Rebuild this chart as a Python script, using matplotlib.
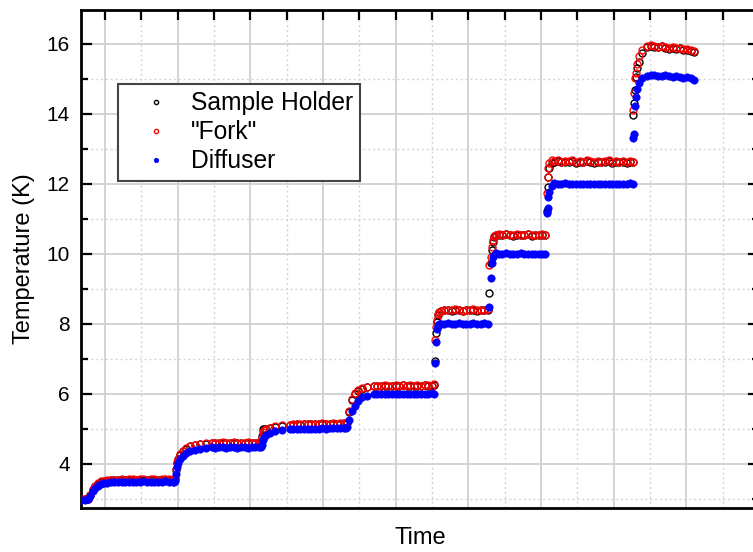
import matplotlib
matplotlib.use("Agg")
import matplotlib.pyplot as plt
from matplotlib.ticker import MultipleLocator

plt.rcParams['font.family'] = ['Liberation Sans', 'DejaVu Sans']

# time axis (arbitrary minutes, no labels shown on the plot)
time_min = [
    6.75, 7.2, 7.7, 8.0, 8.3, 8.6, 9.0, 9.4, 9.8, 10.3, 10.8, 11.3, 11.8, 12.3, 12.8, 13.3, 13.8, 14.3, 14.8,
    15.3, 15.8, 16.3, 16.8, 17.3, 17.8, 18.3, 18.8, 19.3, 19.5,
    19.62, 19.76, 19.9, 20.03, 20.31, 20.72, 21.13, 21.68, 22.37, 23.06, 23.88, 24.71, 25.2, 25.7, 26.2,
    26.7, 27.2, 27.7, 28.2, 28.7, 29.2, 29.7, 30.2, 30.7, 31.2, 31.45,
    31.58, 31.72, 31.86, 32.13, 32.68, 33.37, 34.33, 35.43, 35.9, 36.4, 36.9, 37.4, 37.9, 38.4, 38.9, 39.4,
    39.9, 40.4, 40.9, 41.4, 41.9, 42.4, 42.9, 43.12,
    43.26, 43.54, 43.95, 44.36, 44.78, 45.33, 46.01, 46.98, 47.5, 48.0, 48.5, 49.0, 49.5, 50.0, 50.5, 51.0,
    51.5, 52.0, 52.5, 53.0, 53.5, 54.0, 54.5, 55.0, 55.22,
    55.36, 55.5, 55.63, 55.77, 55.9, 56.2, 56.7, 57.2, 57.7, 58.2, 58.7, 59.2, 59.7, 60.2, 60.7, 61.2, 61.7,
    62.2, 62.7,
    62.85, 63.06, 63.2, 63.33, 63.47, 63.75, 64.2, 64.7, 65.2, 65.7, 66.2, 66.7, 67.2, 67.7, 68.2, 68.7,
    69.2, 69.7, 70.2, 70.6,
    70.76, 70.9, 71.03, 71.17, 71.45, 71.85, 72.3, 72.8, 73.3, 73.8, 74.3, 74.8, 75.3, 75.8, 76.3, 76.8,
    77.3, 77.8, 78.3, 78.8, 79.3, 79.8, 80.3, 80.8, 81.3, 81.8, 82.3, 82.6,
    82.71, 82.85, 82.99, 83.12, 83.26, 83.53, 83.95, 84.64, 85.1, 85.6, 86.1, 86.6, 87.1, 87.6, 88.1, 88.6,
    89.1, 89.6, 90.1, 90.6, 91.1,
]

sample_holder = [
    2.99, 2.99, 3.00, 3.10, 3.26, 3.36, 3.44, 3.49, 3.51, 3.52, 3.53, 3.54, 3.54, 3.55, 3.54, 3.55, 3.55, 3.54,
    3.55, 3.55, 3.54, 3.55, 3.55, 3.54, 3.55, 3.55, 3.55, 3.54, 3.55,
    3.58, 3.83, 4.03, 4.14, 4.26, 4.37, 4.44, 4.50, 4.54, 4.56, 4.58, 4.59, 4.60, 4.59, 4.61, 4.60, 4.59,
    4.61, 4.60, 4.59, 4.60, 4.61, 4.59, 4.60, 4.61, 4.60,
    4.80, 5.00, 5.00, 5.00, 5.03, 5.06, 5.09, 5.11, 5.12, 5.13, 5.12, 5.14, 5.13, 5.13, 5.14, 5.13, 5.15,
    5.14, 5.14, 5.15, 5.14, 5.15, 5.16, 5.15,
    5.18, 5.48, 5.83, 6.00, 6.09, 6.15, 6.19, 6.22, 6.23, 6.22, 6.24, 6.23, 6.22, 6.24, 6.23, 6.25, 6.23,
    6.24, 6.22, 6.24, 6.23, 6.25, 6.24, 6.23, 6.25,
    6.94, 7.74, 8.05, 8.25, 8.33, 8.37, 8.39, 8.40, 8.38, 8.41, 8.39, 8.37, 8.40, 8.39, 8.41, 8.38, 8.40,
    8.39, 8.41,
    8.89, 9.74, 10.10, 10.35, 10.48, 10.54, 10.55, 10.53, 10.56, 10.54, 10.52, 10.55, 10.53, 10.54, 10.56,
    10.52, 10.54, 10.53, 10.55, 10.54,
    11.23, 11.90, 12.20, 12.45, 12.60, 12.64, 12.65, 12.62, 12.64, 12.63, 12.66, 12.61, 12.64, 12.62, 12.65,
    12.63, 12.61, 12.64, 12.62, 12.63, 12.65, 12.61, 12.63, 12.62, 12.64, 12.60, 12.63, 12.62,
    13.97, 14.30, 14.69, 15.05, 15.30, 15.49, 15.74, 15.90, 15.95, 15.92, 15.90, 15.93, 15.88, 15.86, 15.89,
    15.85, 15.87, 15.83, 15.84, 15.81, 15.77,
]

fork = [
    3.00, 3.00, 3.01, 3.12, 3.28, 3.38, 3.45, 3.50, 3.52, 3.53, 3.54, 3.55, 3.55, 3.56, 3.55, 3.56, 3.57, 3.55,
    3.56, 3.56, 3.55, 3.57, 3.56, 3.55, 3.56, 3.57, 3.56, 3.55, 3.56,
    3.60, 3.85, 4.05, 4.15, 4.27, 4.38, 4.45, 4.51, 4.55, 4.57, 4.59, 4.60, 4.61, 4.60, 4.62, 4.61, 4.60,
    4.62, 4.61, 4.60, 4.61, 4.62, 4.60, 4.61, 4.62, 4.61,
    4.75, 4.90, 4.97, 5.01, 5.04, 5.07, 5.10, 5.12, 5.13, 5.14, 5.13, 5.15, 5.14, 5.14, 5.15, 5.14, 5.16,
    5.15, 5.15, 5.16, 5.15, 5.16, 5.17, 5.16,
    5.20, 5.50, 5.85, 6.02, 6.10, 6.16, 6.20, 6.23, 6.24, 6.23, 6.25, 6.24, 6.23, 6.25, 6.24, 6.26, 6.24,
    6.25, 6.23, 6.25, 6.24, 6.26, 6.25, 6.24, 6.27,
    7.54, 7.91, 8.10, 8.28, 8.35, 8.38, 8.40, 8.41, 8.39, 8.42, 8.40, 8.38, 8.41, 8.40, 8.42, 8.39, 8.41,
    8.40, 8.42,
    9.67, 9.90, 10.20, 10.40, 10.50, 10.55, 10.56, 10.54, 10.57, 10.55, 10.53, 10.56, 10.54, 10.55, 10.57,
    10.53, 10.55, 10.54, 10.56, 10.55,
    11.74, 12.20, 12.45, 12.60, 12.68, 12.66, 12.67, 12.64, 12.66, 12.65, 12.68, 12.63, 12.66, 12.64, 12.67,
    12.65, 12.63, 12.66, 12.64, 12.65, 12.67, 12.63, 12.65, 12.64, 12.66, 12.62, 12.65, 12.64,
    14.11, 14.60, 15.03, 15.17, 15.43, 15.66, 15.83, 15.95, 15.97, 15.94, 15.92, 15.95, 15.90, 15.88, 15.91,
    15.87, 15.89, 15.85, 15.86, 15.83, 15.79,
]

diffuser = [
    2.98, 2.98, 2.99, 3.08, 3.22, 3.31, 3.38, 3.42, 3.45, 3.46, 3.47, 3.48, 3.48, 3.49, 3.48, 3.49, 3.49, 3.48,
    3.49, 3.50, 3.48, 3.49, 3.49, 3.48, 3.49, 3.50, 3.49, 3.49, 3.48,
    3.52, 3.70, 3.92, 4.02, 4.13, 4.24, 4.31, 4.37, 4.41, 4.44, 4.46, 4.47, 4.46, 4.48, 4.47, 4.46, 4.48,
    4.47, 4.46, 4.47, 4.48, 4.46, 4.47, 4.47, 4.48, 4.47,
    4.55, 4.69, 4.76, 4.82, 4.88, 4.93, 4.97, 4.99, 5.00, 4.99, 5.01, 5.00, 5.00, 5.01, 5.00, 5.01, 5.02,
    5.01, 5.02, 5.02, 5.03, 5.02, 5.03, 5.03,
    5.05, 5.25, 5.50, 5.65, 5.80, 5.90, 5.95, 5.99, 6.00, 5.99, 6.01, 6.00, 6.00, 6.01, 6.00, 5.99, 6.01,
    6.00, 6.01, 6.00, 6.01, 6.00, 6.01, 6.02, 6.01,
    6.89, 7.49, 7.85, 7.95, 7.99, 8.01, 8.00, 8.02, 8.01, 8.00, 8.02, 8.01, 8.00, 8.01, 8.02, 8.00, 8.01,
    8.02, 8.01,
    8.49, 9.31, 9.74, 9.90, 9.98, 10.02, 10.01, 10.00, 10.02, 10.01, 9.99, 10.00, 10.02, 10.00, 10.01, 9.99,
    10.01, 10.00, 10.01, 10.00,
    11.17, 11.32, 11.63, 11.77, 11.95, 12.02, 12.01, 12.00, 12.02, 12.01, 12.00, 11.99, 12.01, 12.00, 12.01,
    12.00, 11.99, 12.01, 12.00, 12.00, 12.01, 11.99, 12.00, 12.01, 12.00, 11.99, 12.02, 12.00,
    13.31, 13.43, 14.23, 14.49, 14.70, 14.89, 15.03, 15.09, 15.10, 15.11, 15.09, 15.08, 15.10, 15.07, 15.06,
    15.08, 15.05, 15.04, 15.06, 15.03, 14.98,
]

labels = ['Sample Holder', '"Fork"', 'Diffuser']

fig = plt.figure(figsize=(7.53, 5.52), dpi=100)
ax = fig.add_axes([81 / 753, 1 - 508 / 552, 678 / 753, 498 / 552])

ax.plot(time_min, sample_holder, 'o', ls='none', ms=5.0, mfc='none', mec='black', mew=1.0,
        label=labels[0], zorder=3)
ax.plot(time_min, fork, 'o', ls='none', ms=5.0, mfc='none', mec='red', mew=1.0,
        label=labels[1], zorder=4)
ax.plot(time_min, diffuser, 'o', ls='none', ms=5.3, mfc='blue', mec='blue', mew=0.5,
        label=labels[2], zorder=5)

ax.set_xlim(6.7, 100)
ax.set_ylim(2.74, 16.97)

ax.xaxis.set_major_locator(MultipleLocator(10))
ax.xaxis.set_minor_locator(MultipleLocator(5))
ax.yaxis.set_major_locator(MultipleLocator(2))
ax.yaxis.set_minor_locator(MultipleLocator(1))

ax.grid(which='major', color='#d0d0d0', lw=1.3, ls='-', zorder=0)
ax.grid(which='minor', color='#d4d4d4', lw=1.0, ls=(0, (1.5, 2)), zorder=0)
ax.set_axisbelow(True)

ax.tick_params(axis='x', which='both', bottom=False, top=True, labelbottom=False,
               direction='in', length=7, width=1.6)
ax.tick_params(axis='y', which='both', left=True, right=True, direction='in',
               labelsize=15, pad=8, width=1.6)
ax.tick_params(axis='y', which='major', length=8)
ax.tick_params(axis='y', which='minor', length=5)

for sp in ax.spines.values():
    sp.set_linewidth(2)

ax.set_xlabel('Time', fontsize=17, labelpad=14)
ax.set_ylabel('Temperature (K)', fontsize=17, labelpad=8)

leg = ax.legend(loc='upper left', bbox_to_anchor=(37 / 678, 1 - 74 / 498), borderaxespad=0,
                fontsize=17.7, markerscale=0.6, frameon=True, fancybox=False, framealpha=1,
                handlelength=2.5, handletextpad=0.15, labelspacing=0.2, borderpad=0.3)
leg.get_frame().set_edgecolor('#444444')
leg.get_frame().set_linewidth(1.5)

fig.savefig('out.png', dpi=100)
